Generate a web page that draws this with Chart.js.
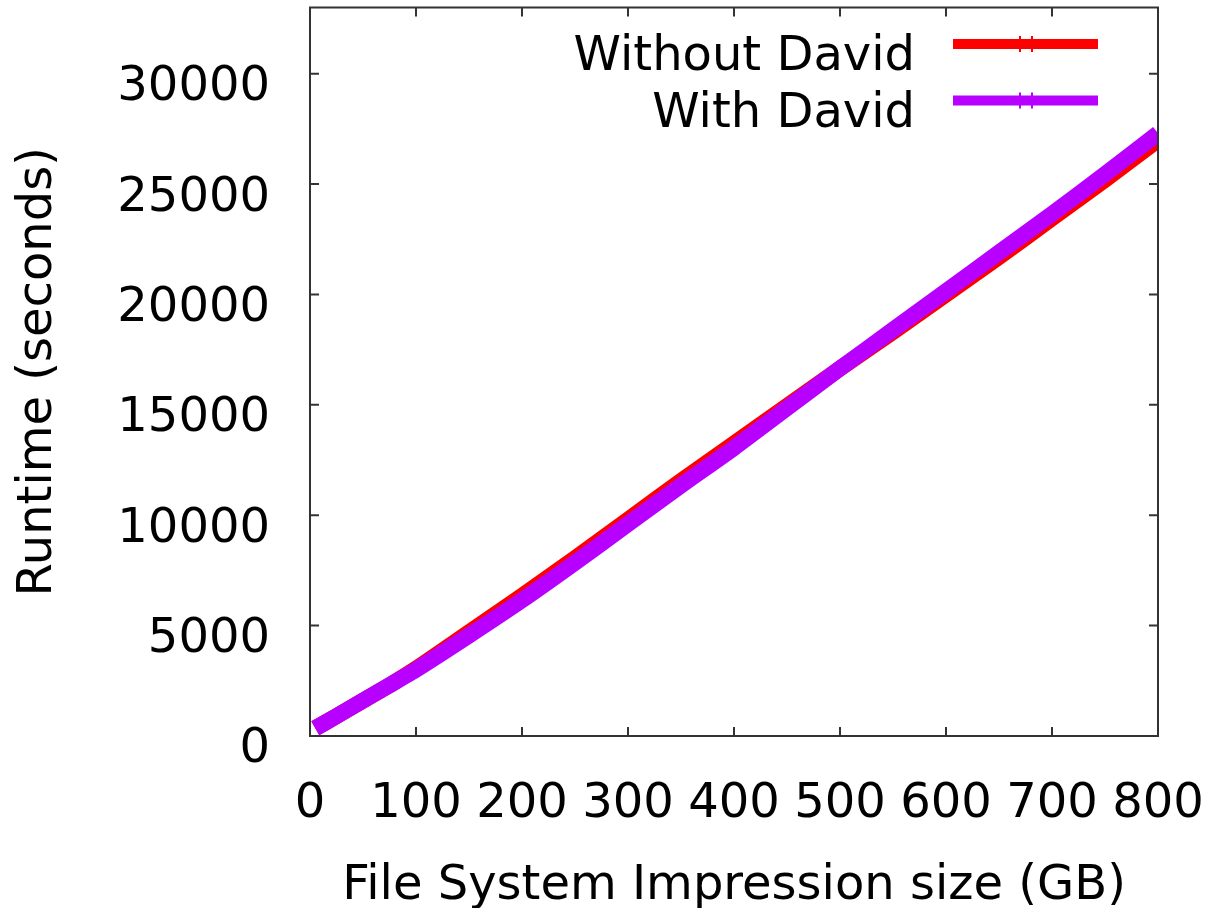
<!DOCTYPE html>
<html>
<head>
<meta charset="utf-8">
<script src="https://cdn.jsdelivr.net/npm/chart.js@4.4.1/dist/chart.umd.min.js"></script>
<style>
  html, body { margin: 0; padding: 0; background: #fff; overflow: hidden; }
  #wrap { width: 1212px; height: 908px; overflow: hidden; }
  canvas { display: block; }
</style>
</head>
<body>
<div id="wrap"><canvas id="c" width="1212" height="960"></canvas></div>
<script>
// File system image size (GB) at each measurement
const sizesGB = [5, 25, 50, 75, 100, 150, 200, 250, 300, 350, 400, 450, 500, 550, 600, 650, 700, 750, 800];
// Runtime in seconds
const runtimeWithoutDavid = [350, 900, 1600, 2300, 3050, 4700, 6350, 8050, 9800, 11550, 13250, 14950, 16650, 18300, 20000, 21700, 23450, 25200, 27000];
const runtimeWithDavid    = [350, 900, 1600, 2300, 3000, 4550, 6150, 7850, 9600, 11350, 13050, 14850, 16650, 18400, 20150, 21900, 23650, 25450, 27300];

const seriesLabels = ['Without David', 'With David'];
const seriesColors = ['#ff0000', '#b700ff'];

const xTicks = [0, 100, 200, 300, 400, 500, 600, 700, 800];
const yTicks = [0, 5000, 10000, 15000, 20000, 25000, 30000];

const FONT = '"DejaVu Sans", "Liberation Sans", sans-serif';
Chart.defaults.font.family = FONT;
Chart.defaults.font.size = 48;
Chart.defaults.color = '#000';

// Plot border with inward tick marks on all four sides
const frameAndTicks = {
  id: 'frameAndTicks',
  afterDatasetsDraw(chart) {
    const { ctx, chartArea: a, scales: { x, y } } = chart;
    const L = 9;
    ctx.save();
    ctx.strokeStyle = '#333';
    ctx.lineWidth = 2;
    ctx.strokeRect(a.left, a.top, a.right - a.left, a.bottom - a.top);
    ctx.beginPath();
    x.ticks.forEach(t => {
      const px = x.getPixelForValue(t.value);
      ctx.moveTo(px, a.bottom); ctx.lineTo(px, a.bottom - L);
      ctx.moveTo(px, a.top); ctx.lineTo(px, a.top + L);
    });
    y.ticks.forEach(t => {
      const py = y.getPixelForValue(t.value);
      ctx.moveTo(a.left, py); ctx.lineTo(a.left + L, py);
      ctx.moveTo(a.right, py); ctx.lineTo(a.right - L, py);
    });
    ctx.stroke();
    ctx.restore();
  }
};

// Key in the top-right corner: label text on the left, line sample on the right
const keyBox = {
  id: 'keyBox',
  afterDraw(chart) {
    const { ctx, chartArea: a } = chart;
    ctx.save();
    ctx.font = '48px ' + FONT;
    ctx.textAlign = 'right';
    ctx.textBaseline = 'alphabetic';
    chart.data.datasets.forEach((ds, i) => {
      const lineY = a.top + 36.5 + i * 56.5;
      const textRight = a.right - 243;
      const x0 = a.right - 205, x1 = a.right - 60;
      ctx.fillStyle = '#000';
      ctx.fillText(ds.label, textRight, lineY + 26);
      ctx.strokeStyle = ds.borderColor;
      ctx.lineWidth = 10;
      ctx.lineCap = 'butt';
      ctx.beginPath();
      ctx.moveTo(x0, lineY); ctx.lineTo(x1, lineY);
      ctx.stroke();
      ctx.lineWidth = 2;
      ctx.beginPath();
      [x0 + 67, x0 + 79].forEach(px => { ctx.moveTo(px, lineY - 8); ctx.lineTo(px, lineY + 8); });
      ctx.stroke();
    });
    ctx.restore();
  }
};

// Keep the plot area fixed: no extra room reserved for overhanging tick labels
const noOverhang = s => { s.paddingTop = 0; s.paddingBottom = 0; s.paddingLeft = 0; s.paddingRight = 0; };

const toPoints = ys => sizesGB.map((gb, i) => ({ x: gb, y: ys[i] }));

new Chart(document.getElementById('c'), {
  type: 'line',
  data: {
    datasets: [
      {
        label: seriesLabels[0],
        data: toPoints(runtimeWithoutDavid),
        borderColor: seriesColors[0],
        backgroundColor: seriesColors[0],
        borderWidth: 16,
        pointRadius: 0,
        tension: 0.2,
        borderJoinStyle: 'round',
        order: 2
      },
      {
        label: seriesLabels[1],
        data: toPoints(runtimeWithDavid),
        borderColor: seriesColors[1],
        backgroundColor: seriesColors[1],
        borderWidth: 16,
        pointRadius: 0,
        tension: 0.2,
        borderJoinStyle: 'round',
        order: 1
      }
    ]
  },
  options: {
    responsive: false,
    animation: false,
    layout: { padding: { left: 0, right: 54, top: 7.5, bottom: 45 } },
    plugins: { legend: { display: false }, tooltip: { enabled: false } },
    scales: {
      x: {
        type: 'linear',
        min: 0,
        max: 800,
        afterBuildTicks: s => { s.ticks = xTicks.map(v => ({ value: v })); },
        afterFit: s => { s.height = 179; noOverhang(s); },
        grid: { display: false, drawTicks: false },
        border: { display: false },
        ticks: { padding: 40, maxRotation: 0, autoSkip: false, color: '#000', font: { size: 48 } },
        title: { display: true, text: 'File System Impression size (GB)', color: '#000', font: { size: 48 }, padding: { top: 0, bottom: 0 } }
      },
      y: {
        type: 'linear',
        min: 0,
        max: 33000,
        afterBuildTicks: s => { s.ticks = yTicks.map(v => ({ value: v })); },
        afterFit: s => { s.width = 310; noOverhang(s); },
        grid: { display: false, drawTicks: false },
        border: { display: false },
        ticks: { padding: 40, labelOffset: 14, autoSkip: false, color: '#000', font: { size: 48 }, callback: v => String(v) },
        title: { display: true, text: 'Runtime (seconds)', color: '#000', font: { size: 48 }, padding: { top: 10, bottom: 0 } }
      }
    }
  },
  plugins: [frameAndTicks, keyBox]
});
</script>
</body>
</html>
